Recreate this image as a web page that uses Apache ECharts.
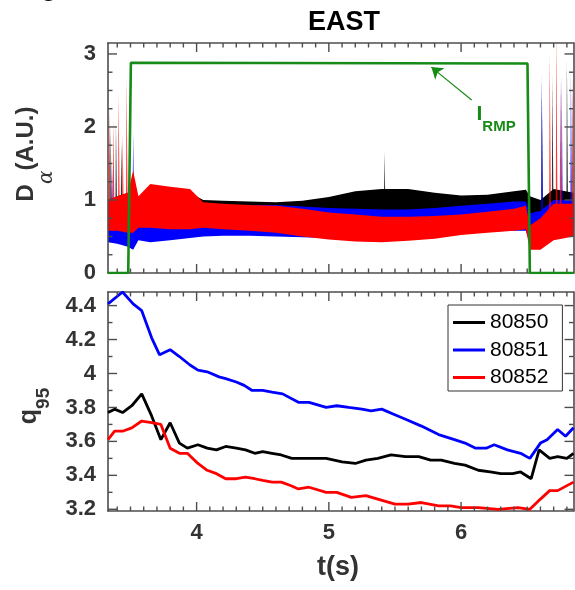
<!DOCTYPE html>
<html><head><meta charset="utf-8">
<script src="https://cdn.jsdelivr.net/npm/echarts@6/dist/echarts.min.js"></script>
<style>html,body{margin:0;padding:0;background:#fff;overflow:hidden}
#wrap{position:relative;width:575px;height:590px}
.layer{position:absolute;left:0;top:0;width:575px;height:590px}</style>
</head><body><div id="wrap"><div class="layer" id="bg"></div><div class="layer" id="fg"></div></div>
<script>
// ---------------- data ----------------
const xTickMajor = [4, 5, 6];
const xTickMinor = [3.4,3.5,3.6,3.7,3.8,3.9,4.1,4.2,4.3,4.4,4.5,4.6,4.7,4.8,4.9,5.1,5.2,5.3,5.4,5.5,5.6,5.7,5.8,5.9,6.1,6.2,6.3,6.4,6.5,6.6,6.7,6.8];
const daTickMajor = [0, 1, 2, 3];
const daTickMinor = [0.25,0.5,0.75,1.25,1.5,1.75,2.25,2.5,2.75];
const qTickMajor = [3.2, 3.4, 3.6, 3.8, 4, 4.2, 4.4];
const qTickMinor = [3.3, 3.5, 3.7, 3.9, 4.1, 4.3];

const shots = ['80850', '80851', '80852'];

// RMP coil current (A.U.)
const rmpT = [3.33, 3.483, 3.503, 6.502, 6.52, 6.85];
const rmpV = [0, 0, 2.88, 2.87, 0, 0];
const arrowFrom = [6.08, 2.37];
const arrowTo = [5.775, 2.82];

// D-alpha envelopes (lower / upper edge of the fluctuating signal)
const daT = [3.33,3.40,3.48,3.52,3.56,3.65,3.80,3.95,4.05,4.20,4.40,4.60,4.80,5.00,5.20,5.40,5.60,5.80,6.00,6.20,6.40,6.49,6.52,6.60,6.70,6.85];
const da850Hi = [1.00,1.05,1.10,1.05,1.00,1.15,1.12,1.10,1.00,0.99,0.98,0.97,0.99,1.04,1.12,1.15,1.15,1.10,1.06,1.07,1.12,1.14,1.05,1.00,1.15,1.10];
const da850Lo = [0.60,0.60,0.60,0.62,0.62,0.65,0.65,0.65,0.64,0.62,0.60,0.60,0.62,0.64,0.66,0.68,0.68,0.68,0.68,0.70,0.72,0.72,0.55,0.55,0.62,0.62];
const da851Hi = [0.85,0.90,0.95,1.20,1.00,1.00,0.95,0.92,0.92,0.93,0.93,0.93,0.91,0.89,0.88,0.87,0.87,0.89,0.92,0.95,0.98,0.98,0.82,0.85,1.00,1.00];
const da851Lo = [0.42,0.40,0.36,0.32,0.45,0.42,0.45,0.48,0.50,0.51,0.51,0.50,0.49,0.48,0.47,0.48,0.50,0.52,0.55,0.57,0.58,0.58,0.40,0.40,0.48,0.50];
const da852Hi = [1.00,1.05,1.10,1.40,1.05,1.22,1.18,1.15,0.97,0.95,0.93,0.92,0.88,0.83,0.80,0.77,0.77,0.78,0.80,0.84,0.88,0.92,0.65,0.75,0.95,0.95];
const da852Lo = [0.58,0.58,0.55,0.55,0.62,0.62,0.60,0.60,0.62,0.60,0.58,0.55,0.50,0.46,0.43,0.42,0.44,0.47,0.52,0.55,0.58,0.60,0.32,0.32,0.45,0.50];

// ELM-like spikes (time, peak)
const spikeBase = 0.8;
const sp850T = [3.35, 3.39, 3.43, 5.42, 6.61, 6.69, 6.80];
const sp850V = [2.00, 2.05, 1.80, 1.66, 2.50, 2.69, 2.92];
const sp851T = [3.36, 3.52, 6.61, 6.76, 6.83];
const sp851V = [1.50, 1.92, 2.74, 2.69, 2.74];
const sp852T = [3.34, 3.37, 3.41, 3.44, 3.47, 6.67, 6.72, 6.75, 6.84];
const sp852V = [2.27, 2.10, 2.45, 1.90, 2.68, 3.03, 3.30, 2.64, 2.70];

// q95
const q850T = [3.33,3.38,3.44,3.51,3.585,3.66,3.73,3.80,3.87,3.93,4.01,4.08,4.15,4.22,4.30,4.37,4.44,4.50,4.57,4.64,4.72,4.87,4.98,5.10,5.20,5.28,5.37,5.47,5.58,5.68,5.77,5.85,5.95,6.03,6.13,6.22,6.30,6.39,6.45,6.53,6.59,6.67,6.73,6.80,6.85];
const q850V = [3.77,3.79,3.77,3.81,3.88,3.75,3.61,3.71,3.59,3.56,3.58,3.56,3.55,3.57,3.56,3.55,3.53,3.54,3.53,3.52,3.50,3.50,3.50,3.48,3.47,3.49,3.50,3.52,3.51,3.51,3.49,3.49,3.47,3.46,3.43,3.42,3.41,3.41,3.42,3.38,3.55,3.50,3.51,3.50,3.53];
const q851T = [3.33,3.44,3.52,3.585,3.66,3.72,3.80,3.87,3.95,4.01,4.08,4.17,4.22,4.30,4.36,4.42,4.50,4.57,4.65,4.77,4.85,4.98,5.06,5.15,5.25,5.32,5.40,5.49,5.58,5.70,5.83,5.95,6.03,6.11,6.19,6.25,6.35,6.45,6.52,6.60,6.65,6.73,6.79,6.85];
const q851V = [4.41,4.48,4.41,4.37,4.21,4.11,4.14,4.10,4.05,4.02,4.01,3.98,3.97,3.95,3.93,3.90,3.90,3.89,3.88,3.83,3.83,3.80,3.81,3.80,3.79,3.78,3.79,3.76,3.73,3.69,3.64,3.61,3.59,3.56,3.56,3.58,3.55,3.53,3.50,3.59,3.61,3.67,3.63,3.68];
const q852T = [3.33,3.38,3.44,3.51,3.585,3.66,3.73,3.80,3.87,3.93,4.01,4.08,4.15,4.22,4.30,4.37,4.44,4.50,4.57,4.64,4.71,4.77,4.85,4.98,5.06,5.17,5.28,5.37,5.50,5.60,5.70,5.83,5.92,6.00,6.13,6.28,6.43,6.52,6.60,6.67,6.73,6.85];
const q852V = [3.61,3.66,3.66,3.68,3.72,3.71,3.70,3.56,3.53,3.53,3.47,3.43,3.41,3.38,3.38,3.39,3.38,3.37,3.36,3.36,3.34,3.32,3.33,3.30,3.30,3.27,3.28,3.26,3.23,3.23,3.24,3.22,3.22,3.21,3.21,3.20,3.21,3.20,3.26,3.31,3.31,3.36];

// ---------------- chart ----------------
const X_MIN = 3.33, X_MAX = 6.85;
const DA_MIN = 0, DA_MAX = 3.15;
const Q_MIN = 3.19, Q_MAX = 4.48;
const FONT = '"Liberation Sans", Arial, Helvetica, sans-serif';
const FRAME = '#4d4d4d';
const LBL = '#333333';
const GREEN = '#178a17';
const COLORS = ['#000000', '#0000ff', '#ff0000'];
const GRID_TOP = { left: 108, right: 1.5, top: 43, height: 230 };
const GRID_BOT = { left: 108, right: 1.5, top: 292, height: 219 };

// ---- foreground layer: frames, ticks, labels, RMP trace, q95, legend ----
function frameAxis(gridIndex, position, min, max, labels, margin) {
  return {
    type: 'value', gridIndex, position, min, max,
    axisLine: { show: true, onZero: false, lineStyle: { color: FRAME, width: 1.6 } },
    axisTick: { show: false },
    axisLabel: labels ? { show: true, customValues: labels, margin: margin, color: LBL, fontSize: 22, fontWeight: 'bold', fontFamily: FONT } : { show: false },
    splitLine: { show: false },
    axisPointer: { show: false }
  };
}
const xAxis = [
  frameAxis(0, 'bottom', X_MIN, X_MAX, null),
  frameAxis(0, 'top', X_MIN, X_MAX, null),
  frameAxis(1, 'bottom', X_MIN, X_MAX, xTickMajor, 11),
  frameAxis(1, 'top', X_MIN, X_MAX, null)
];
const yAxis = [
  frameAxis(0, 'left', DA_MIN, DA_MAX, daTickMajor, 12),
  frameAxis(0, 'right', DA_MIN, DA_MAX, null),
  frameAxis(1, 'left', Q_MIN, Q_MAX, qTickMajor, 12),
  frameAxis(1, 'right', Q_MIN, Q_MAX, null)
];
// inward tick marks on all four sides, placed through the axes' scales
function xTickSeries(xi, yi, ticks, yMin, yMax, len) {
  return {
    type: 'custom', xAxisIndex: xi, yAxisIndex: yi, silent: true, clip: false, z: 5,
    data: ticks.map(v => [v, yMin]), encode: { x: 0, y: 1 },
    renderItem(params, api) {
      const v = api.value(0);
      const b = api.coord([v, yMin]), t = api.coord([v, yMax]);
      const st = { stroke: FRAME, lineWidth: 1.4 };
      return { type: 'group', children: [
        { type: 'line', shape: { x1: b[0], y1: b[1], x2: b[0], y2: b[1] - len }, style: st },
        { type: 'line', shape: { x1: t[0], y1: t[1], x2: t[0], y2: t[1] + len }, style: st }
      ] };
    }
  };
}
function yTickSeries(xi, yi, ticks, len) {
  return {
    type: 'custom', xAxisIndex: xi, yAxisIndex: yi, silent: true, clip: false, z: 5,
    data: ticks.map(v => [X_MIN, v]), encode: { x: 0, y: 1 },
    renderItem(params, api) {
      const v = api.value(1);
      const l = api.coord([X_MIN, v]), r = api.coord([X_MAX, v]);
      const st = { stroke: FRAME, lineWidth: 1.4 };
      return { type: 'group', children: [
        { type: 'line', shape: { x1: l[0], y1: l[1], x2: l[0] + len, y2: l[1] }, style: st },
        { type: 'line', shape: { x1: r[0], y1: r[1], x2: r[0] - len, y2: r[1] }, style: st }
      ] };
    }
  };
}
function qSeries(name, T, V, color) {
  return {
    type: 'line', name, xAxisIndex: 2, yAxisIndex: 2,
    data: T.map((t, i) => [t, V[i]]),
    symbol: 'none',
    lineStyle: { color, width: 2.8 }, itemStyle: { color }
  };
}
const fg = echarts.init(document.getElementById('fg'));
fg.setOption({
  animation: false,
  grid: [GRID_TOP, GRID_BOT],
  xAxis, yAxis,
  series: [
    xTickSeries(0, 0, xTickMajor, DA_MIN, DA_MAX, 9),
    xTickSeries(0, 0, xTickMinor, DA_MIN, DA_MAX, 4.5),
    yTickSeries(0, 0, daTickMajor, 9),
    yTickSeries(0, 0, daTickMinor, 4.5),
    xTickSeries(2, 2, xTickMajor, Q_MIN, Q_MAX, 9),
    xTickSeries(2, 2, xTickMinor, Q_MIN, Q_MAX, 4.5),
    yTickSeries(2, 2, qTickMajor, 9),
    yTickSeries(2, 2, qTickMinor, 4.5),
    {
      type: 'line', name: 'IRMP', xAxisIndex: 0, yAxisIndex: 0, z: 6,
      data: rmpT.map((t, i) => [t, rmpV[i]]),
      symbol: 'none',
      lineStyle: { color: GREEN, width: 2.6 }, itemStyle: { color: GREEN },
      markLine: {
        silent: true, symbol: ['none', 'arrow'], symbolSize: 11,
        label: { show: false },
        lineStyle: { color: GREEN, width: 1.2, type: 'solid' },
        data: [[{ coord: arrowFrom }, { coord: arrowTo }]]
      }
    },
    qSeries(shots[0], q850T, q850V, COLORS[0]),
    qSeries(shots[1], q851T, q851V, COLORS[1]),
    qSeries(shots[2], q852T, q852V, COLORS[2])
  ],
  legend: {
    data: shots, left: 448, top: 305, orient: 'vertical',
    icon: 'rect', itemWidth: 32, itemHeight: 3, itemGap: 6.5,
    padding: [7, 14, 3, 5],
    borderColor: '#333', borderWidth: 1, backgroundColor: '#fff',
    selectedMode: false,
    textStyle: { fontSize: 21, color: '#000', fontFamily: FONT }
  }
});

// ---- background layer: D-alpha signals and titles ----
function bandSeries(name, T, lo, hi, color) {
  return {
    type: 'custom', name, clip: true, silent: true,
    data: T.map((t, i) => [t, lo[i], hi[i]]),
    encode: { x: 0, y: [1, 2] },
    renderItem(params, api) {
      if (params.dataIndex !== 0) return null;
      const pts = [];
      for (let i = 0; i < T.length; i++) pts.push(api.coord([T[i], hi[i]]));
      for (let i = T.length - 1; i >= 0; i--) pts.push(api.coord([T[i], lo[i]]));
      return { type: 'polygon', shape: { points: pts }, style: { fill: color } };
    }
  };
}
function spikeSeries(name, T, V, color) {
  return {
    type: 'custom', name, clip: true, silent: true,
    data: T.map((t, i) => [t, V[i]]),
    encode: { x: 0, y: 1 },
    renderItem(params, api) {
      const t = api.value(0), v = api.value(1);
      const a = api.coord([t - 0.004, spikeBase]);
      const b = api.coord([t, v]);
      const c = api.coord([t + 0.009, spikeBase]);
      return { type: 'polygon', shape: { points: [a, b, c] }, style: { fill: color, opacity: 0.8 } };
    }
  };
}
try {
  const bg = echarts.init(document.getElementById('bg'));
  bg.setOption({
    animation: false,
    backgroundColor: '#ffffff',
    grid: [GRID_TOP],
    xAxis: [{ type: 'value', min: X_MIN, max: X_MAX, show: false }],
    yAxis: [{ type: 'value', min: DA_MIN, max: DA_MAX, show: false }],
    series: [
      bandSeries('Da 80850', daT, da850Lo, da850Hi, COLORS[0]),
      spikeSeries('sp 80850', sp850T, sp850V, COLORS[0]),
      bandSeries('Da 80851', daT, da851Lo, da851Hi, COLORS[1]),
      spikeSeries('sp 80851', sp851T, sp851V, COLORS[1]),
      bandSeries('Da 80852', daT, da852Lo, da852Hi, COLORS[2]),
      spikeSeries('sp 80852', sp852T, sp852V, COLORS[2])
    ],
    graphic: [
      { type: 'text', x: 344, y: 23, style: { text: 'EAST', fontSize: 27, fontWeight: 'bold', fontFamily: FONT, fill: '#000', align: 'center', verticalAlign: 'middle' } },
      { type: 'text', x: 49, y: -12, style: { text: 'g', fontSize: 27, fontWeight: 'bold', fontFamily: FONT, fill: '#000', align: 'center', verticalAlign: 'middle' } },
      { type: 'text', x: 338, y: 568, style: { text: 't(s)', fontSize: 27, fontWeight: 'bold', fontFamily: FONT, fill: LBL, align: 'center', verticalAlign: 'middle' } },
      { type: 'text', x: 26.7, y: 154, rotation: Math.PI / 2, style: {
          text: '{m|D}{s|α}{m|(A.U.)}', align: 'center', verticalAlign: 'middle',
          rich: {
            m: { fontSize: 24, fontWeight: 'bold', fontFamily: FONT, fill: LBL, lineHeight: 60, verticalAlign: 'middle' },
            s: { fontSize: 20, fontStyle: 'italic', fontFamily: '"DejaVu Serif", "Liberation Serif", serif', fill: LBL, lineHeight: 20, verticalAlign: 'bottom' }
          } } },
      { type: 'text', x: 28.7, y: 406, rotation: Math.PI / 2, style: {
          text: '{m|q}{s|95}', align: 'center', verticalAlign: 'middle',
          rich: {
            m: { fontSize: 25, fontWeight: 'bold', fontFamily: FONT, fill: LBL, lineHeight: 50, verticalAlign: 'middle' },
            s: { fontSize: 19, fontWeight: 'bold', fontFamily: FONT, fill: LBL, lineHeight: 19, verticalAlign: 'bottom' }
          } } },
      { type: 'text', x: 476.5, y: 114, style: {
          text: '{m|I}{s|RMP}', align: 'left', verticalAlign: 'middle',
          rich: {
            m: { fontSize: 21, fontWeight: 'bold', fontFamily: FONT, fill: GREEN, lineHeight: 40, verticalAlign: 'middle' },
            s: { fontSize: 15, fontWeight: 'bold', fontFamily: FONT, fill: GREEN, lineHeight: 15, verticalAlign: 'bottom' }
          } } }
    ]
  });
} catch (e) { console.error(e); }
</script>
</body></html>
